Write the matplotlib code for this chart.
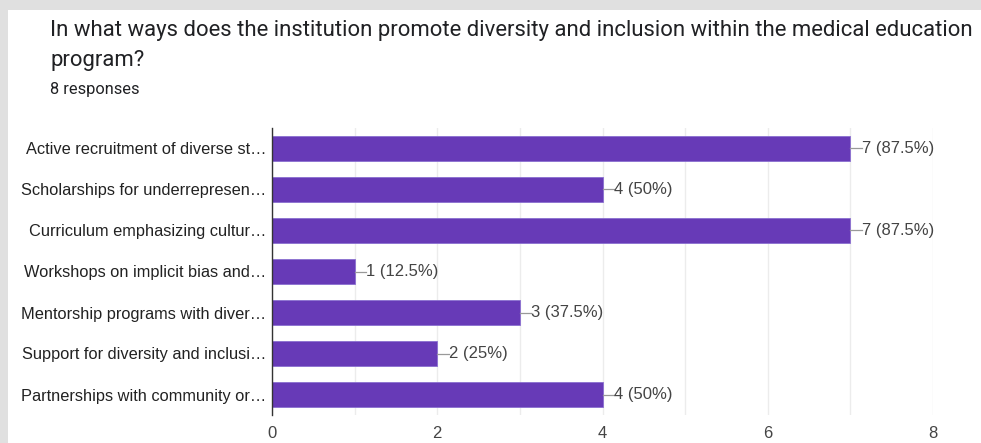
import matplotlib.pyplot as plt
from matplotlib.patches import Rectangle

plt.rcParams['font.family'] = ['Roboto', 'DejaVu Sans']
arial = ['Liberation Sans', 'DejaVu Sans']

title_lines = [
    "In what ways does the institution promote diversity and inclusion within the medical education",
    "program?",
]
n_responses = 8
options = [
    "Active recruitment of diverse st\u2026",
    "Scholarships for underrepresen\u2026",
    "Curriculum emphasizing cultur\u2026",
    "Workshops on implicit bias and\u2026",
    "Mentorship programs with diver\u2026",
    "Support for diversity and inclusi\u2026",
    "Partnerships with community or\u2026",
]
counts = [7, 4, 7, 1, 3, 2, 4]

purple = '#673ab7'
grey_text = '#444444'

fig = plt.figure(figsize=(9.81, 4.43), dpi=100)
fig.patch.set_facecolor('#e0e0e0')
# white card behind everything
fig.patches.append(Rectangle((8 / 981, 0), 1, 1 - 10 / 443, transform=fig.transFigure,
                             facecolor='white', edgecolor='none', zorder=-5))

fig.text(50 / 981, 1 - 36 / 443, title_lines[0], fontsize=15.95, color='#202124', va='baseline')
fig.text(50 / 981, 1 - 66 / 443, title_lines[1], fontsize=15.95, color='#202124', va='baseline')
fig.text(50 / 981, 1 - 94 / 443, f"{n_responses} responses", fontsize=11.8, color='#202124',
         va='baseline')

ax = fig.add_axes([272 / 981, 28 / 443, 661 / 981, 287 / 443])
ax.set_facecolor('white')
y = list(range(len(options)))
ax.barh(y, counts, height=0.62, color=purple, edgecolor='#8a6fd0', linewidth=0.6, zorder=3)

for yi, c in zip(y, counts):
    pct = c / n_responses * 100
    pct_s = f"{pct:g}%"
    ax.plot([c, c + 0.14], [yi, yi], color='#999999', lw=0.9, zorder=3, clip_on=False)
    ax.text(c + 0.14, yi, f"{c} ({pct_s})", va='center', ha='left', fontsize=12,
            color=grey_text, zorder=4, family=arial)

ax.set_xlim(0, 8)
ax.set_ylim(len(options) - 0.5, -0.5)
ax.set_yticks(y)
ax.set_yticklabels(options, fontsize=11.8, color='#222222', family=arial)
ax.set_xticks([0, 2, 4, 6, 8])
ax.set_xticks([1, 3, 5, 7], minor=True)
ax.tick_params(axis='x', which='both', length=0, labelsize=12, colors=grey_text, pad=8)
for lbl in ax.get_xticklabels():
    lbl.set_family(arial)
ax.tick_params(axis='y', length=0, pad=4)
ax.grid(axis='x', which='both', color='#ececec', lw=1, zorder=0)
for side in ['top', 'right', 'bottom']:
    ax.spines[side].set_visible(False)
ax.spines['left'].set_color('#333333')
ax.spines['left'].set_linewidth(1)
ax.spines['left'].set_zorder(5)

fig.savefig('out.png', dpi=100, facecolor=fig.get_facecolor())
